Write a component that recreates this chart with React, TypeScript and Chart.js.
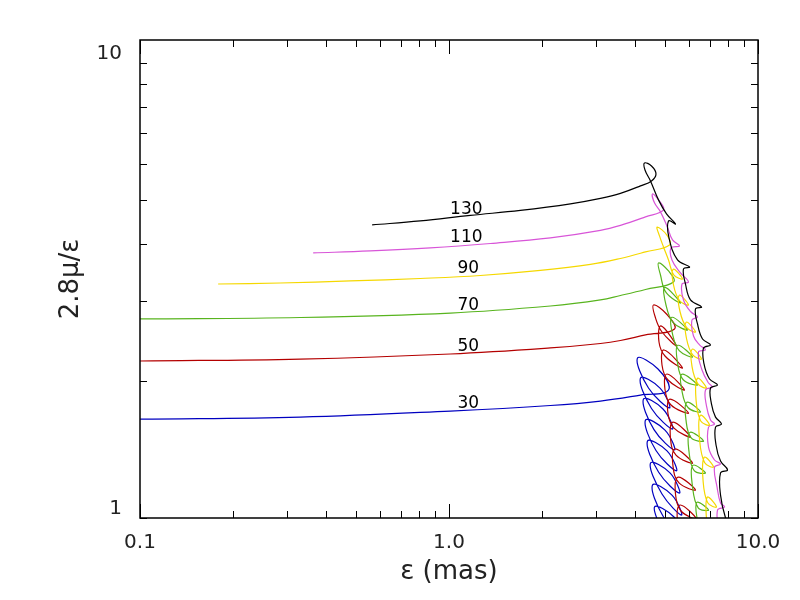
import { useEffect, useRef } from "react";
import { Chart, registerables } from "chart.js";

Chart.register(...registerables);

// axis ticks (log axes, minor ticks drawn inward)
const xTickValues = [0.1, 0.2, 0.3, 0.4, 0.5, 0.6, 0.7, 0.8, 0.9, 1, 2, 3, 4, 5, 6, 7, 8, 9, 10];
const xMajorTicks = [0.1, 1, 10];
const xTickLabels = ["0.1", "1.0", "10.0"];
const yTickValues = [1, 2, 3, 4, 5, 6, 7, 8, 9, 10];
const yMajorTicks = [1, 10];
const yTickLabels = ["1", "10"];

// curve labels
const curveNames = ["130", "110", "90", "70", "50", "30"];
const labelX = [1.138, 1.138, 1.155, 1.155, 1.155, 1.155];
const labelY = [4.766, 4.136, 3.535, 2.931, 2.382, 1.784];

// traces: eps (mas) vs 2.8 mu / eps
const blackX = [0.564, 0.8071, 1.172, 1.702, 2.471, 3.091, 3.588, 4.166, 4.522, 4.676, 4.522, 4.292, 4.308, 4.488, 4.764, 5.057, 5.407,
  5.133, 5.152, 5.489, 6.002, 5.74, 5.826, 6.047, 6.565, 6.277, 6.371, 6.614, 7.02, 6.664, 6.688, 6.968, 7.396,
  7.02, 7.072, 7.287, 7.62, 7.287, 7.314, 7.564, 7.969, 7.564, 7.564, 7.852, 8.15];
const blackY = [4.406, 4.496, 4.624, 4.742, 4.901, 5.039, 5.168, 5.368, 5.505, 5.703, 5.937, 6.028, 5.819, 5.505, 5.001, 4.66, 4.428,
  4.496, 4.126, 3.69, 3.562, 3.526, 3.267, 3.014, 2.908, 2.88, 2.669, 2.474, 2.4, 2.364, 2.18, 2.02, 1.96,
  1.93, 1.78, 1.666, 1.608, 1.584, 1.447, 1.334, 1.275, 1.256, 1.123, 1.0, 0.955];

const magentaX = [0.3635, 0.556, 0.8697, 1.361, 2.129, 3.091, 3.588, 4.324, 4.945, 4.764, 4.556, 4.624, 4.835, 5.084, 5.288, 5.571,
  5.229, 5.268, 5.613, 5.958, 5.676, 5.74, 6.047, 6.371, 6.115, 6.184, 6.467, 6.763, 6.419, 6.59, 6.916, 7.125,
  6.763, 6.814, 7.02, 7.232, 6.916, 6.916, 7.232, 7.564, 7.232, 7.369, 7.564, 7.793, 7.396, 7.452];
const magentaY = [3.824, 3.862, 3.922, 4.011, 4.126, 4.286, 4.395, 4.589, 4.754, 5.001, 5.155, 4.926, 4.706, 4.368, 4.084, 3.961,
  3.922, 3.69, 3.455, 3.301, 3.267, 3.014, 2.843, 2.765, 2.724, 2.512, 2.4, 2.34, 2.316, 2.114, 1.98, 1.94,
  1.911, 1.762, 1.641, 1.608, 1.584, 1.432, 1.341, 1.314, 1.294, 1.17, 1.079, 1.057, 1.041, 0.941];

const yellowX = [0.179, 0.2841, 0.479, 0.8071, 1.263, 1.976, 2.869, 3.588, 4.324, 5.171, 5.072, 4.718, 4.8, 4.945, 5.133,
  5.336, 5.697, 5.32, 5.328, 5.579, 5.958, 5.563, 5.592, 5.879, 6.277, 5.861, 5.87, 6.147, 6.565, 6.129, 6.115,
  6.39, 6.814, 6.371, 6.301, 6.526, 6.968, 6.506, 6.467, 6.723, 7.178, 6.703, 6.639, 6.876, 7.341, 6.855, 6.814, 6.968];
const yellowY = [3.267, 3.284, 3.318, 3.36, 3.411, 3.499, 3.607, 3.718, 3.843, 3.981, 4.185, 4.355, 4.168, 3.941, 3.69,
  3.423, 3.352, 3.522, 3.251, 3.002, 2.938, 3.088, 2.843, 2.619, 2.563, 2.694, 2.48, 2.283, 2.235, 2.35, 2.153,
  1.972, 1.93, 2.028, 1.821, 1.634, 1.6, 1.681, 1.491, 1.322, 1.294, 1.36, 1.212, 1.08, 1.057, 1.111, 0.99, 0.895];

const greenX = [0.1, 0.33, 1.01, 2.129, 3.091, 3.588, 4.324, 5.328, 5.133, 4.764, 4.835,
  5.045, 5.613, 4.993, 5.038, 5.316, 5.914, 5.261, 5.288, 5.559, 6.138, 5.501, 5.489, 5.727, 6.371, 5.668, 5.676,
  5.945, 6.516, 5.883, 5.848, 6.079, 6.664, 6.016, 5.98, 6.216, 6.763, 6.152, 6.138, 6.404, 6.916, 6.338, 6.371, 6.516];
const greenY = [2.738, 2.758, 2.821, 2.923, 3.014, 3.083, 3.178, 3.301, 3.49, 3.635, 3.42,
  3.127, 2.968, 3.213, 2.938, 2.687, 2.589, 2.761, 2.538, 2.332, 2.258, 2.396, 2.196, 2.013, 1.96, 2.069, 1.901,
  1.747, 1.71, 1.795, 1.641, 1.5, 1.476, 1.542, 1.4, 1.271, 1.256, 1.305, 1.173, 1.053, 1.041, 1.082, 0.98, 0.895];

const redX = [0.1, 0.33, 1.01, 2.129, 3.091, 3.588, 4.324, 5.368, 5.057, 4.59, 4.659,
  4.89, 5.448, 4.853, 4.782, 5.0, 5.697, 4.963, 4.89, 5.114, 5.783, 5.076, 5.0, 5.229, 5.958, 5.19, 5.114,
  5.348, 6.047, 5.308, 5.21, 5.428, 6.138, 5.388, 5.308, 5.55, 6.277, 5.51, 5.407, 5.634, 6.324, 5.592, 5.489, 5.718];
const redY = [2.213, 2.235, 2.293, 2.364, 2.418, 2.455, 2.525, 2.602, 2.807, 2.938, 2.752,
  2.563, 2.388, 2.643, 2.436, 2.27, 2.136, 2.34, 2.169, 2.01, 1.911, 2.072, 1.916, 1.771, 1.7, 1.825, 1.696,
  1.576, 1.506, 1.624, 1.494, 1.375, 1.32, 1.418, 1.3, 1.194, 1.152, 1.23, 1.129, 1.036, 0.995, 1.068, 0.982, 0.904];

const blueX = [0.1, 0.33, 1.01, 2.129, 3.091, 4.166, 5.133, 4.747, 4.074, 4.422, 5.171, 4.818, 4.166, 4.522,
  5.288, 4.926, 4.26, 4.607, 5.368, 5.0, 4.324, 4.676, 5.448, 5.076, 4.389, 4.764, 5.571, 5.19, 4.488, 4.89,
  5.655, 5.268, 4.556, 4.926, 5.74, 5.348, 4.624, 5.0];
const blueY = [1.649, 1.666, 1.718, 1.767, 1.807, 1.863, 1.911, 2.125, 2.247, 1.93, 1.745, 1.93, 2.031, 1.74,
  1.568, 1.736, 1.825, 1.564, 1.411, 1.56, 1.641, 1.407, 1.269, 1.404, 1.476, 1.262, 1.134, 1.256, 1.32, 1.129,
  1.015, 1.123, 1.182, 1.01, 0.909, 1.005, 1.057, 0.904];

const series = [
  { x: blackX, y: blackY, color: "#000000" },
  { x: magentaX, y: magentaY, color: "#d855d8" },
  { x: yellowX, y: yellowY, color: "#f5d800" },
  { x: greenX, y: greenY, color: "#58b41e" },
  { x: redX, y: redY, color: "#b40000" },
  { x: blueX, y: blueY, color: "#0000c0" },
];

const FONT = "'DejaVu Sans', sans-serif";

// inward ticks on all four sides, the frame and the curve labels
const framePlugin = {
  id: "frame",
  afterDraw(chart: Chart) {
    const { ctx, chartArea: a } = chart;
    const xs = chart.scales.x;
    const ys = chart.scales.y;
    ctx.save();
    ctx.strokeStyle = "#000";
    ctx.lineWidth = 1;
    ctx.beginPath();
    xTickValues.forEach((v) => {
      const px = Math.round(xs.getPixelForValue(v)) + 0.5;
      const len = xMajorTicks.includes(v) ? 14 : 7;
      ctx.moveTo(px, a.bottom);
      ctx.lineTo(px, a.bottom - len);
      ctx.moveTo(px, a.top);
      ctx.lineTo(px, a.top + len);
    });
    yTickValues.forEach((v) => {
      const py = Math.round(ys.getPixelForValue(v)) + 0.5;
      ctx.moveTo(a.left, py);
      ctx.lineTo(a.left + 7, py);
      ctx.moveTo(a.right, py);
      ctx.lineTo(a.right - 7, py);
    });
    ctx.stroke();
    ctx.lineWidth = 1.5;
    ctx.strokeRect(a.left, a.top, a.right - a.left, a.bottom - a.top);

    ctx.font = `17px ${FONT}`;
    ctx.fillStyle = "#000";
    ctx.textAlign = "center";
    ctx.textBaseline = "middle";
    curveNames.forEach((t, i) => {
      ctx.fillText(t, xs.getPixelForValue(labelX[i]), ys.getPixelForValue(labelY[i]));
    });
    ctx.restore();
  },
};

export default function App() {
  const canvasRef = useRef<HTMLCanvasElement>(null);
  const chartRef = useRef<Chart | null>(null);

  useEffect(() => {
    if (chartRef.current) {
      chartRef.current.destroy();
    }
    if (!canvasRef.current) return;

    chartRef.current = new Chart(canvasRef.current, {
      type: "scatter",
      data: {
        datasets: series.map((s) => ({
          data: s.x.map((v, i) => ({ x: v, y: s.y[i] })),
          borderColor: s.color,
          backgroundColor: s.color,
          borderWidth: 1.2,
          showLine: true,
          pointRadius: 0,
          tension: 0.4,
          fill: false,
        })),
      },
      options: {
        responsive: false,
        animation: false,
        events: [],
        layout: { padding: { left: 0, top: 40, right: 42, bottom: 0 } },
        elements: { line: { capBezierPoints: false } },
        plugins: {
          legend: { display: false },
          tooltip: { enabled: false },
        },
        scales: {
          x: {
            type: "logarithmic",
            min: 0.1,
            max: 10,
            afterBuildTicks: (scale) => {
              scale.ticks = xTickValues.map((value) => ({ value }));
            },
            afterFit: (scale) => {
              scale.height = 82;
            },
            grid: { display: false, drawTicks: false },
            border: { display: false },
            ticks: {
              autoSkip: false,
              maxRotation: 0,
              padding: 13,
              color: "#222",
              font: { family: FONT, size: 20 },
              callback: (value) => {
                const i = xMajorTicks.indexOf(Number(value));
                return i >= 0 ? xTickLabels[i] : "";
              },
            },
            title: {
              display: true,
              text: "ε (mas)",
              color: "#222",
              font: { family: FONT, size: 26 },
              padding: { top: 0, bottom: 12 },
            },
          },
          y: {
            type: "logarithmic",
            min: 1,
            max: 11.23,
            afterBuildTicks: (scale) => {
              scale.ticks = yTickValues.map((value) => ({ value }));
            },
            afterFit: (scale) => {
              scale.width = 140;
            },
            grid: { display: false, drawTicks: false },
            border: { display: false },
            ticks: {
              autoSkip: false,
              padding: 18,
              labelOffset: -9,
              color: "#222",
              font: { family: FONT, size: 20 },
              callback: (value) => {
                const i = yMajorTicks.indexOf(Number(value));
                return i >= 0 ? yTickLabels[i] : "";
              },
            },
            title: {
              display: true,
              text: "2.8μ/ε",
              color: "#222",
              font: { family: FONT, size: 26 },
              padding: { top: 56, bottom: 0 },
            },
          },
        },
      },
      plugins: [framePlugin],
    });

    return () => {
      if (chartRef.current) {
        chartRef.current.destroy();
        chartRef.current = null;
      }
    };
  }, []);

  return (
    <div style={{ position: "absolute", left: 0, top: 0, width: 800, height: 600, background: "#fff" }}>
      <canvas ref={canvasRef} width={800} height={600} style={{ display: "block" }} />
    </div>
  );
}
